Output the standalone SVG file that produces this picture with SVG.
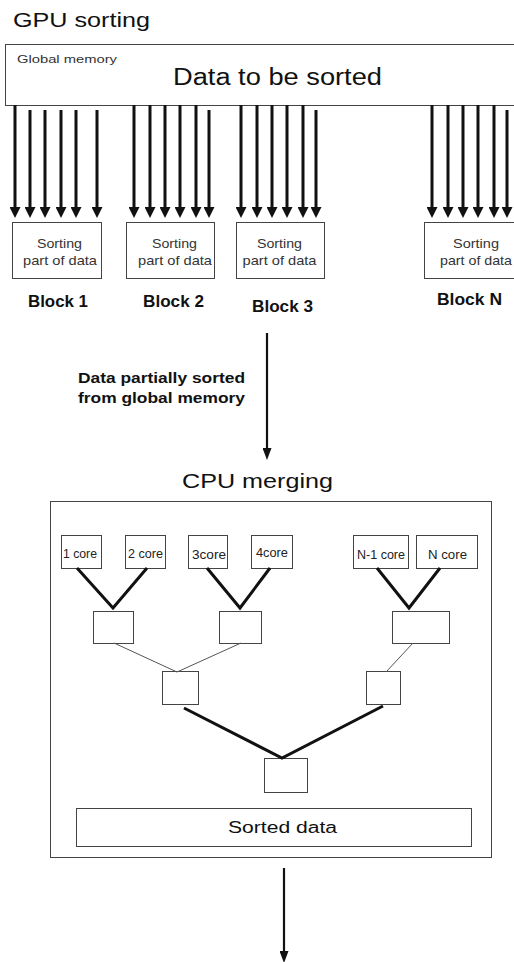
<svg xmlns="http://www.w3.org/2000/svg" width="514" height="962" viewBox="0 0 514 962">
<defs>
<style>
text{font-family:"Liberation Sans",Arial,sans-serif;fill:#111}
.box{fill:#fff;stroke:#444;stroke-width:1}
.small{font-size:11px;fill:#333}
.sort{font-size:13px;fill:#333;text-anchor:middle}
.blk{font-size:16px;font-weight:bold;text-anchor:middle}
.core{font-size:12px;fill:#222;text-anchor:middle}
.thick{stroke:#111;stroke-width:3;fill:none}
.thin{stroke:#555;stroke-width:1;fill:none}
.arr{stroke:#111;stroke-width:3;marker-end:url(#ah)}
.arr2{stroke:#111;stroke-width:2.2;marker-end:url(#ah2)}
</style>
<marker id="ah" markerUnits="userSpaceOnUse" viewBox="0 0 11 11" markerWidth="11" markerHeight="11" refX="0" refY="5.5" orient="auto">
<path d="M0,0 L11,5.5 L0,11 Z" fill="#111"/>
</marker>
<marker id="ah2" markerUnits="userSpaceOnUse" viewBox="0 0 12 9" markerWidth="12" markerHeight="9" refX="0" refY="4.5" orient="auto">
<path d="M0,0 L12,4.5 L0,9 Z" fill="#111"/>
</marker>
</defs>
<rect width="514" height="962" fill="#fff"/>

<text x="13" y="27" font-size="21" textLength="137" lengthAdjust="spacingAndGlyphs">GPU sorting</text>

<g id="global-memory">
<rect class="box" x="5.5" y="44.5" width="520" height="61"/>
<text x="17" y="63" class="small" textLength="100" lengthAdjust="spacingAndGlyphs">Global memory</text>
<text x="173" y="85" font-size="23" textLength="209" lengthAdjust="spacingAndGlyphs">Data to be sorted</text>
</g>

<g id="block1">
<rect class="box" x="12.5" y="222.5" width="89" height="56"/>
<text x="59.5" y="248" class="sort" textLength="45" lengthAdjust="spacingAndGlyphs">Sorting</text>
<text x="60" y="265" class="sort" textLength="74" lengthAdjust="spacingAndGlyphs">part of data</text>
<text x="58" y="307" class="blk" textLength="60" lengthAdjust="spacingAndGlyphs">Block 1</text>
</g>
<g id="block2">
<rect class="box" x="126.5" y="222.5" width="88" height="56"/>
<text x="174.5" y="248" class="sort" textLength="45" lengthAdjust="spacingAndGlyphs">Sorting</text>
<text x="175" y="265" class="sort" textLength="74" lengthAdjust="spacingAndGlyphs">part of data</text>
<text x="173.5" y="307" class="blk" textLength="61" lengthAdjust="spacingAndGlyphs">Block 2</text>
</g>
<g id="block3">
<rect class="box" x="236.5" y="222.5" width="88" height="56"/>
<text x="279.5" y="248" class="sort" textLength="45" lengthAdjust="spacingAndGlyphs">Sorting</text>
<text x="279.5" y="265" class="sort" textLength="74" lengthAdjust="spacingAndGlyphs">part of data</text>
<text x="282.5" y="312" class="blk" textLength="61" lengthAdjust="spacingAndGlyphs">Block 3</text>
</g>
<g id="blockN">
<rect class="box" x="424.5" y="222.5" width="110" height="56"/>
<text x="476" y="248" class="sort" textLength="46" lengthAdjust="spacingAndGlyphs">Sorting</text>
<text x="476" y="265" class="sort" textLength="72" lengthAdjust="spacingAndGlyphs">part of data</text>
<text x="469.5" y="305" class="blk" textLength="65" lengthAdjust="spacingAndGlyphs">Block N</text>
</g>

<text x="78" y="383" font-size="15" font-weight="bold" textLength="167" lengthAdjust="spacingAndGlyphs">Data partially sorted</text>
<text x="78" y="403" font-size="15" font-weight="bold" textLength="167" lengthAdjust="spacingAndGlyphs">from global memory</text>

<text x="182" y="488" font-size="21" textLength="151" lengthAdjust="spacingAndGlyphs">CPU merging</text>

<g id="cpu">
<rect class="box" x="50.5" y="501.5" width="441" height="356"/>
</g>
<g id="core1"><rect class="box" x="61.5" y="535.5" width="40" height="33"/><text x="80" y="558" class="core" textLength="34" lengthAdjust="spacingAndGlyphs">1 core</text></g>
<g id="core2"><rect class="box" x="125.5" y="535.5" width="40" height="33"/><text x="145.5" y="558" class="core" textLength="35" lengthAdjust="spacingAndGlyphs">2 core</text></g>
<g id="core3"><rect class="box" x="188.5" y="535.5" width="39" height="33"/><text x="209" y="559" class="core" textLength="34" lengthAdjust="spacingAndGlyphs">3core</text></g>
<g id="core4"><rect class="box" x="251.5" y="535.5" width="41" height="33"/><text x="272" y="557" class="core" textLength="32" lengthAdjust="spacingAndGlyphs">4core</text></g>
<g id="coreN1"><rect class="box" x="353.5" y="535.5" width="55" height="33"/><text x="381" y="559" class="core" textLength="48" lengthAdjust="spacingAndGlyphs">N-1 core</text></g>
<g id="coreN"><rect class="box" x="416.5" y="535.5" width="61" height="33"/><text x="447.5" y="559" class="core" textLength="39" lengthAdjust="spacingAndGlyphs">N core</text></g>

<g id="mergeA"><rect class="box" x="93.5" y="611.5" width="40" height="32"/></g>
<g id="mergeB"><rect class="box" x="219.5" y="611.5" width="42" height="32"/></g>
<g id="mergeC"><rect class="box" x="392.5" y="611.5" width="57" height="32"/></g>
<g id="mergeD"><rect class="box" x="162.5" y="671.5" width="36" height="33"/></g>
<g id="mergeE"><rect class="box" x="366.5" y="671.5" width="34" height="33"/></g>
<g id="mergeF"><rect class="box" x="264.5" y="758.5" width="43" height="34"/></g>

<g id="sorted-data">
<rect class="box" x="76.5" y="808.5" width="395" height="38"/>
<text x="228" y="833" font-size="16" textLength="109" lengthAdjust="spacingAndGlyphs">Sorted data</text>
</g>

<g id="connectors">
<line class="arr" x1="15" y1="105" x2="15" y2="207"/>
<line class="arr" x1="30" y1="110" x2="30" y2="207"/>
<line class="arr" x1="45" y1="110" x2="45" y2="207"/>
<line class="arr" x1="61" y1="110" x2="61" y2="207"/>
<line class="arr" x1="76" y1="110" x2="76" y2="207"/>
<line class="arr" x1="97" y1="110" x2="97" y2="207"/>
<line class="arr" x1="134" y1="105" x2="134" y2="207"/>
<line class="arr" x1="150" y1="105" x2="150" y2="207"/>
<line class="arr" x1="165" y1="105" x2="165" y2="207"/>
<line class="arr" x1="180" y1="105" x2="180" y2="207"/>
<line class="arr" x1="196" y1="105" x2="196" y2="207"/>
<line class="arr" x1="209" y1="110" x2="209" y2="207"/>
<line class="arr" x1="241" y1="105" x2="241" y2="207"/>
<line class="arr" x1="257" y1="105" x2="257" y2="207"/>
<line class="arr" x1="272" y1="105" x2="272" y2="207"/>
<line class="arr" x1="287" y1="105" x2="287" y2="207"/>
<line class="arr" x1="303" y1="105" x2="303" y2="207"/>
<line class="arr" x1="316" y1="110" x2="316" y2="207"/>
<line class="arr" x1="432" y1="105" x2="432" y2="207"/>
<line class="arr" x1="448" y1="105" x2="448" y2="207"/>
<line class="arr" x1="463" y1="105" x2="463" y2="207"/>
<line class="arr" x1="478" y1="105" x2="478" y2="207"/>
<line class="arr" x1="494" y1="105" x2="494" y2="207"/>
<line class="arr" x1="507" y1="110" x2="507" y2="207"/>

<line class="arr2" x1="267" y1="333" x2="267" y2="448"/>

<polyline class="thick" points="77,568 113,608 147,568"/>
<polyline class="thick" points="207,568 240,608 270,568"/>
<polyline class="thick" points="377,568 409,608 440,568"/>

<polyline class="thin" points="114,643 177,672 241,643"/>
<line class="thin" x1="413" y1="643" x2="386" y2="672"/>

<polyline class="thick" points="184,708 282,758 383,706"/>

<line class="arr2" x1="284" y1="868" x2="284" y2="951"/>
</g>
</svg>
